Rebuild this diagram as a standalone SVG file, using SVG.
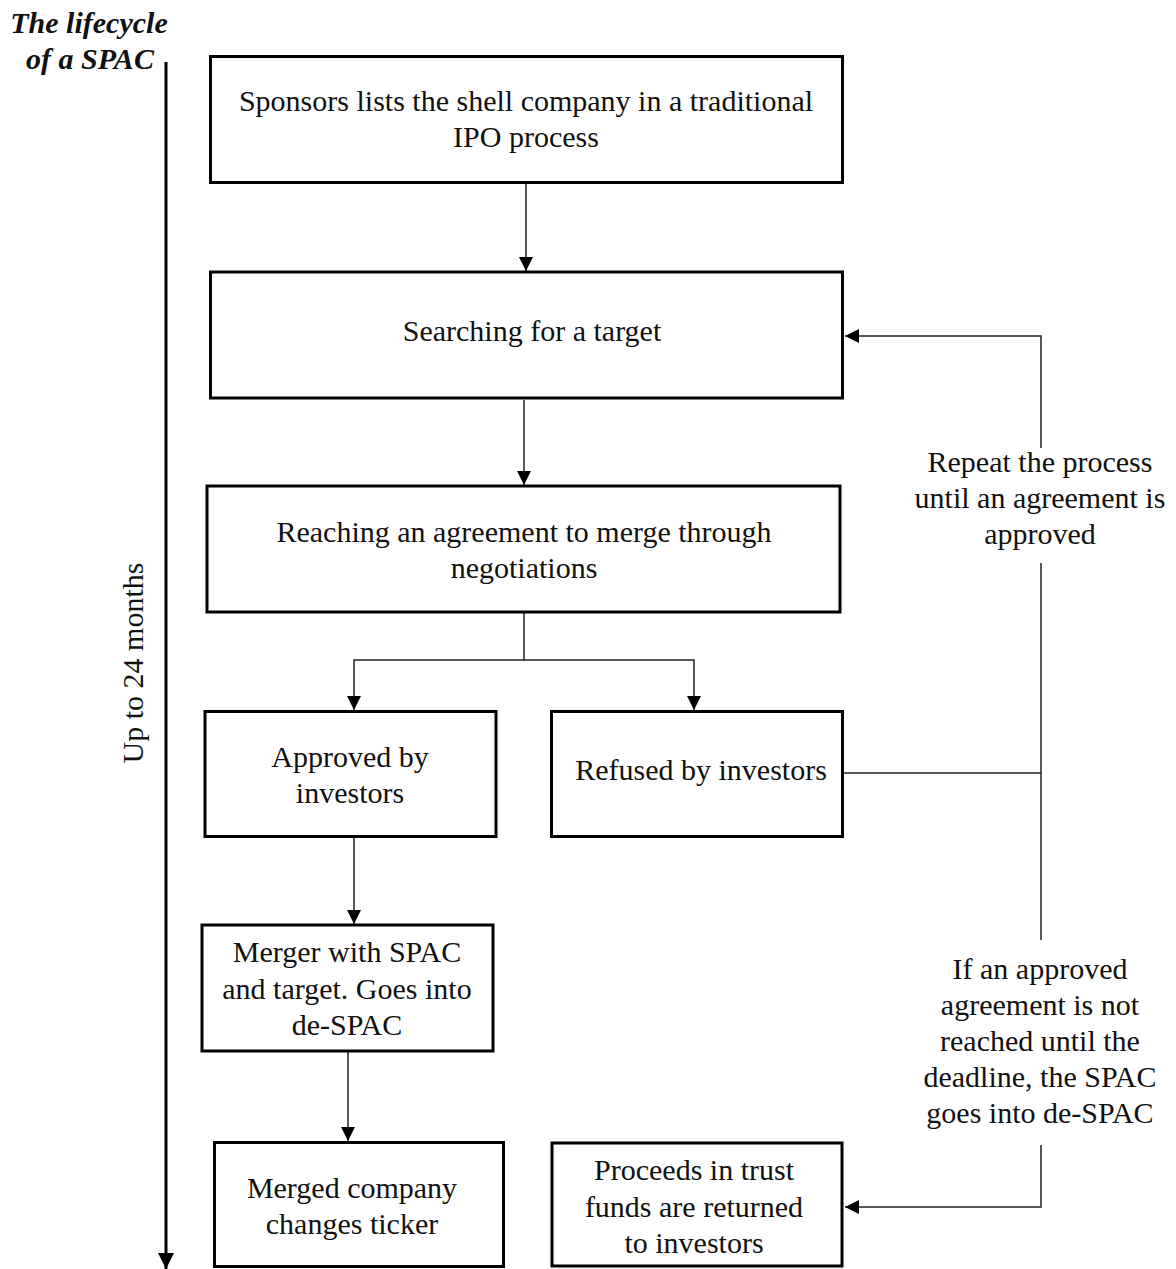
<svg xmlns="http://www.w3.org/2000/svg" width="1176" height="1269" viewBox="0 0 1176 1269">
<style>
.box{fill:#fff;stroke:#000;stroke-width:3}
.t{font-family:"Liberation Serif","Times New Roman",serif;font-size:30px;fill:#111;text-anchor:middle}
.title{font-family:"Liberation Serif","Times New Roman",serif;font-size:30px;font-weight:bold;font-style:italic;fill:#111;text-anchor:middle}
.c{fill:none;stroke:#222;stroke-width:1.5}
</style>
<defs>
<marker id="ah" markerUnits="userSpaceOnUse" markerWidth="14" markerHeight="14" viewBox="0 0 14 14" refX="14" refY="7" orient="auto">
<path d="M0,0 L14,7 L0,14 Z" fill="#000"/>
</marker>
<marker id="ahb" markerUnits="userSpaceOnUse" markerWidth="16" markerHeight="16" viewBox="0 0 16 16" refX="16" refY="8" orient="auto">
<path d="M0,0 L16,8 L0,16 Z" fill="#000"/>
</marker>
</defs>
<rect width="1176" height="1269" fill="#fff"/>
<g id="title">
<text class="title" x="89" y="33">The lifecycle</text>
<text class="title" x="90" y="69">of a SPAC</text>
</g>
<g id="axis">
<line x1="166" y1="62" x2="166" y2="1269" stroke="#000" stroke-width="3" marker-end="url(#ahb)"/>
<text class="t" transform="translate(143,663) rotate(-90)">Up to 24 months</text>
</g>
<g id="connectors">
<line class="c" x1="526" y1="184" x2="526" y2="271" marker-end="url(#ah)"/>
<line class="c" x1="524" y1="400" x2="524" y2="485" marker-end="url(#ah)"/>
<polyline class="c" points="524,613 524,660 354,660 354,710" marker-end="url(#ah)"/>
<polyline class="c" points="524,660 694,660 694,710" marker-end="url(#ah)"/>
<line class="c" x1="354" y1="837" x2="354" y2="924" marker-end="url(#ah)"/>
<line class="c" x1="348" y1="1052" x2="348" y2="1141" marker-end="url(#ah)"/>
<line class="c" x1="844" y1="773" x2="1041" y2="773"/>
<polyline class="c" points="1041,448 1041,336 845,336" marker-end="url(#ah)"/>
<line class="c" x1="1041" y1="563" x2="1041" y2="940"/>
<polyline class="c" points="1041,1145 1041,1207 845,1207" marker-end="url(#ah)"/>
</g>
<g id="n1">
<rect class="box" x="210.5" y="56.5" width="632" height="126"/>
<text class="t" x="526" y="111">Sponsors lists the shell company in a traditional</text>
<text class="t" x="526" y="147">IPO process</text>
</g>
<g id="n2">
<rect class="box" x="210.5" y="272" width="632" height="126"/>
<text class="t" x="532" y="341">Searching for a target</text>
</g>
<g id="n3">
<rect class="box" x="207" y="486" width="633" height="126"/>
<text class="t" x="524" y="542">Reaching an agreement to merge through</text>
<text class="t" x="524" y="578">negotiations</text>
</g>
<g id="n4">
<rect class="box" x="205" y="711.5" width="291" height="125"/>
<text class="t" x="350" y="767">Approved by</text>
<text class="t" x="350" y="803">investors</text>
</g>
<g id="n5">
<rect class="box" x="551.5" y="711.5" width="291" height="125"/>
<text class="t" x="701" y="780">Refused by investors</text>
</g>
<g id="n6">
<rect class="box" x="202" y="925" width="291" height="126"/>
<text class="t" x="347" y="962">Merger with SPAC</text>
<text class="t" x="347" y="999">and target. Goes into</text>
<text class="t" x="347" y="1035">de-SPAC</text>
</g>
<g id="n7">
<rect class="box" x="214.5" y="1142.5" width="289" height="124"/>
<text class="t" x="352" y="1198">Merged company</text>
<text class="t" x="352" y="1234">changes ticker</text>
</g>
<g id="n8">
<rect class="box" x="552" y="1143" width="290" height="123"/>
<text class="t" x="694" y="1180">Proceeds in trust</text>
<text class="t" x="694" y="1217">funds are returned</text>
<text class="t" x="694" y="1253">to investors</text>
</g>
<g id="label-repeat">
<text class="t" x="1040" y="472">Repeat the process</text>
<text class="t" x="1040" y="508">until an agreement is</text>
<text class="t" x="1040" y="544">approved</text>
</g>
<g id="label-deadline">
<text class="t" x="1040" y="979">If an approved</text>
<text class="t" x="1040" y="1015">agreement is not</text>
<text class="t" x="1040" y="1051">reached until the</text>
<text class="t" x="1040" y="1087">deadline, the SPAC</text>
<text class="t" x="1040" y="1123">goes into de-SPAC</text>
</g>
</svg>
